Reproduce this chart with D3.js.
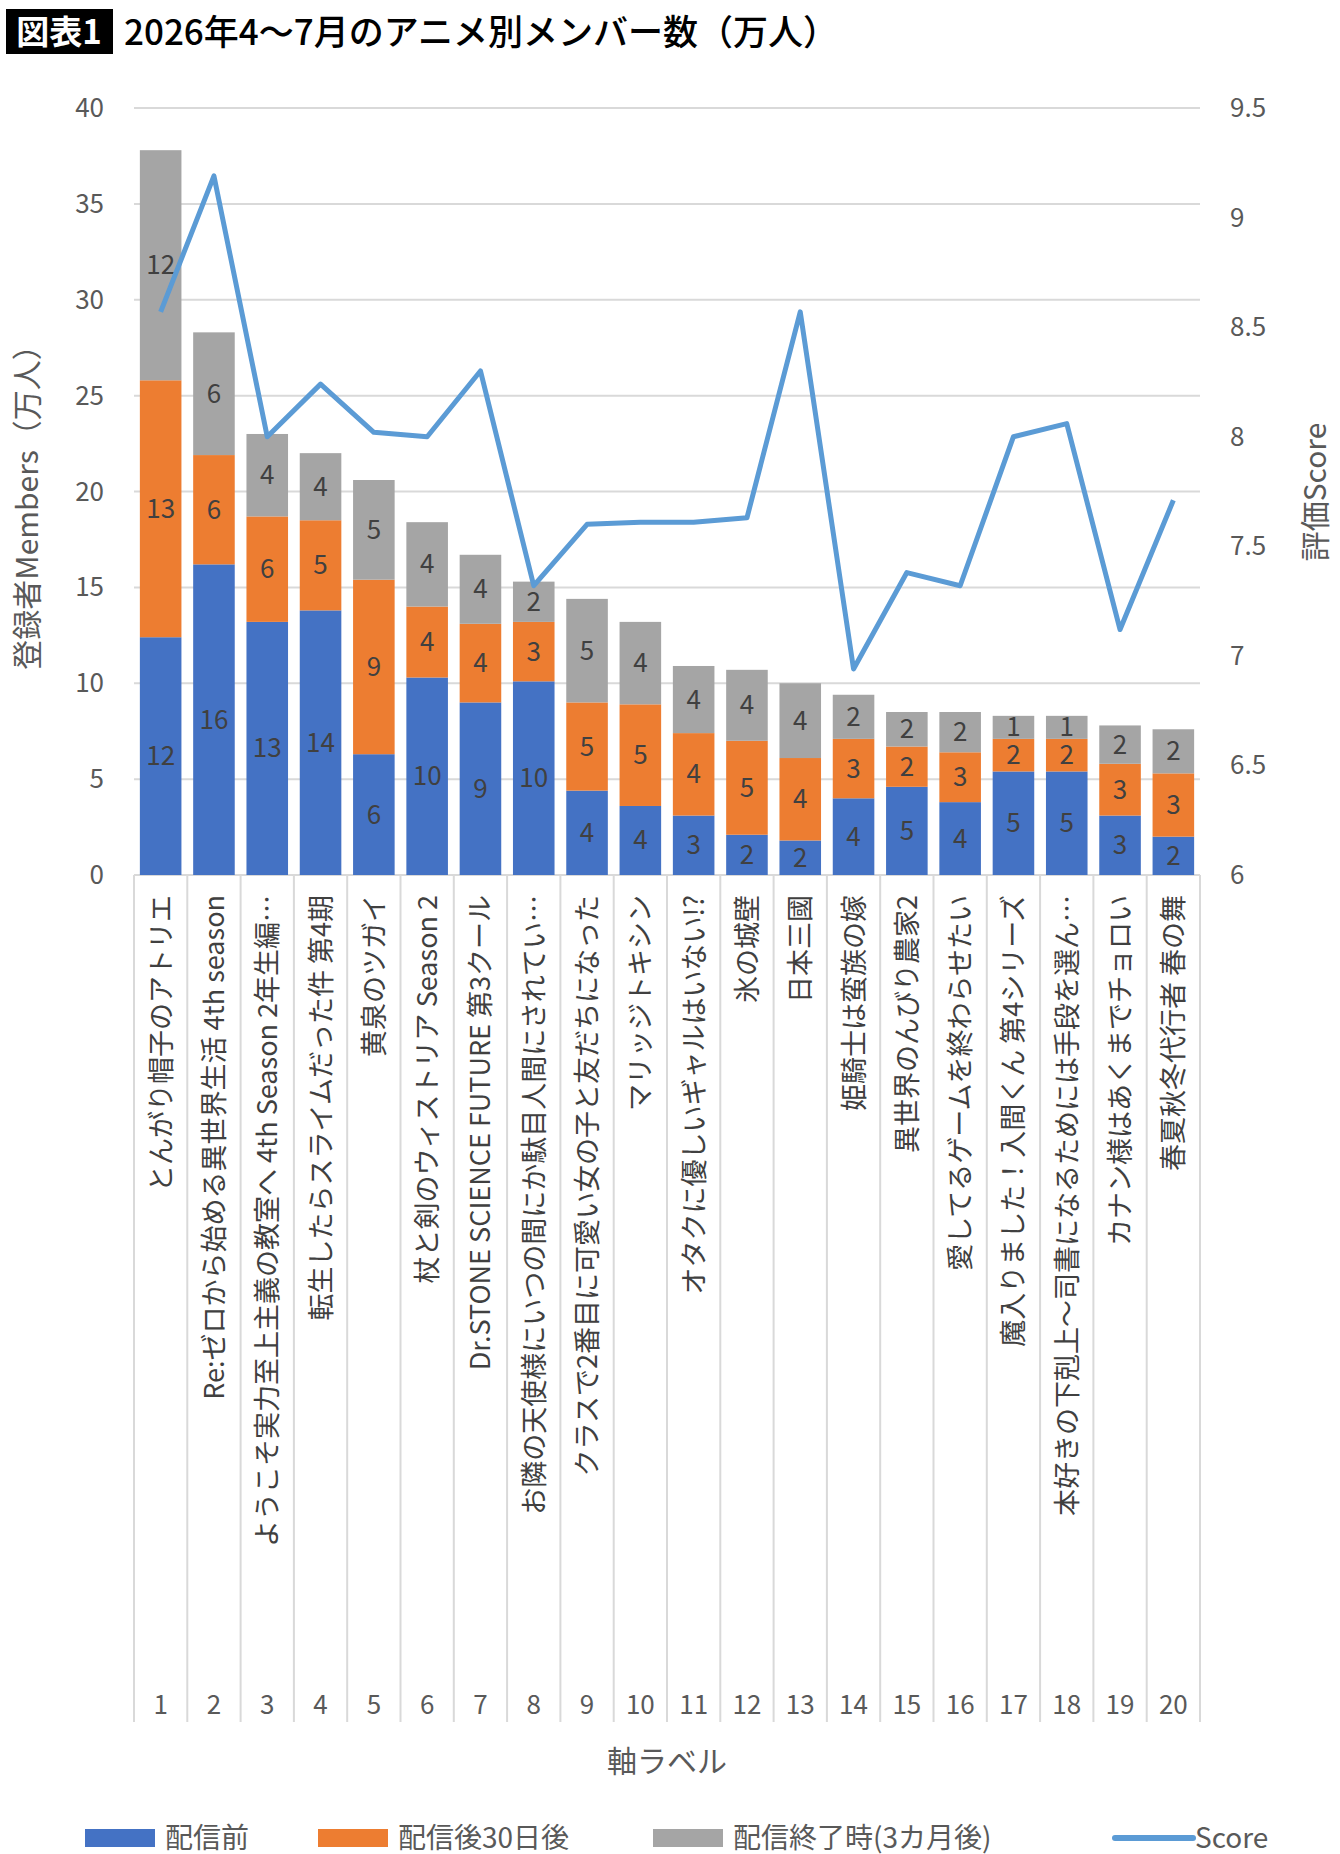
<!DOCTYPE html>
<html><head><meta charset="utf-8">
<script src="https://cdn.jsdelivr.net/npm/d3@7"></script>
<style>body{margin:0;background:#fff;font-family:"Noto Sans CJK JP","Noto Sans",sans-serif;}</style>
</head><body><div id="chart"></div>
<script>
// data
var categories = ["とんがり帽子のアトリエ","Re:ゼロから始める異世界生活 4th season","ようこそ実力至上主義の教室へ 4th Season 2年生編…","転生したらスライムだった件 第4期","黄泉のツガイ","杖と剣のウィストリア Season 2","Dr.STONE SCIENCE FUTURE 第3クール","お隣の天使様にいつの間にか駄目人間にされてい…","クラスで2番目に可愛い女の子と友だちになった","マリッジトキシン","オタクに優しいギャルはいない!?","氷の城壁","日本三國","姫騎士は蛮族の嫁","異世界のんびり農家2","愛してるゲームを終わらせたい","魔入りました！入間くん 第4シリーズ","本好きの下剋上～司書になるためには手段を選ん…","カナン様はあくまでチョロい","春夏秋冬代行者 春の舞"];
var before = [12.4,16.2,13.2,13.8,6.3,10.3,9.0,10.1,4.4,3.6,3.1,2.1,1.8,4.0,4.6,3.8,5.4,5.4,3.1,2.0];
var after30 = [13.4,5.7,5.5,4.7,9.1,3.7,4.1,3.1,4.6,5.3,4.3,4.9,4.3,3.1,2.1,2.6,1.7,1.7,2.7,3.3];
var atEnd = [12.0,6.4,4.3,3.5,5.2,4.4,3.6,2.1,5.4,4.3,3.5,3.7,3.9,2.3,1.8,2.1,1.2,1.2,2.0,2.3];
var score = [8.57,9.19,8.0,8.24,8.02,8.0,8.3,7.32,7.6,7.61,7.61,7.63,8.57,6.94,7.38,7.32,8.0,8.06,7.12,7.71];
var seriesNames = ["配信前","配信後30日後","配信終了時(3カ月後)","Score"];
var colors = ["#4472c4","#ed7d31","#a5a5a5","#5b9bd5"];
var leftTicks = [0,5,10,15,20,25,30,35,40];
var rightTicks = [6,6.5,7,7.5,8,8.5,9,9.5];

var W = 1340, H = 1854;
var svg = d3.select("#chart").append("svg").attr("width", W).attr("height", H);
var plotLeft = 134, plotRight = 1200, plotTop = 108, plotBottom = 875;

// title
svg.append("rect").attr("x", 6).attr("y", 9).attr("width", 107).attr("height", 45).attr("fill", "#000");
svg.append("text").attr("x", 59).attr("y", 44).attr("text-anchor", "middle").attr("fill", "#fff")
  .attr("font-size", 33).attr("font-weight", "bold").text("図表1");
svg.append("text").attr("x", 124).attr("y", 45).attr("fill", "#000")
  .attr("font-size", 35).attr("font-weight", "500").text("2026年4〜7月のアニメ別メンバー数（万人）");

var x = d3.scaleBand().domain(d3.range(20)).range([plotLeft, plotRight]).paddingInner(0.22).paddingOuter(0.11);
var step = (plotRight - plotLeft) / 20;
var y = d3.scaleLinear().domain([0, 40]).range([plotBottom, plotTop]);
var y2 = d3.scaleLinear().domain([6, 9.5]).range([plotBottom, plotTop]);

// gridlines
svg.append("g").selectAll("line").data(leftTicks).join("line")
  .attr("x1", plotLeft).attr("x2", plotRight).attr("y1", d => y(d)).attr("y2", d => y(d))
  .attr("stroke", "#d9d9d9").attr("stroke-width", 2);
svg.append("g").selectAll("text").data(leftTicks).join("text")
  .attr("x", 104).attr("y", d => y(d) + 9).attr("text-anchor", "end")
  .attr("font-size", 26).attr("fill", "#595959").text(d => d);
svg.append("g").selectAll("text").data(rightTicks).join("text")
  .attr("x", 1230).attr("y", d => y2(d) + 9)
  .attr("font-size", 26).attr("fill", "#595959").text(d => d);

// category separators below axis
svg.append("g").selectAll("line").data(d3.range(21)).join("line")
  .attr("x1", d => plotLeft + d * step).attr("x2", d => plotLeft + d * step)
  .attr("y1", plotBottom).attr("y2", 1722).attr("stroke", "#d9d9d9").attr("stroke-width", 2);

// stacked bars
var rows = categories.map((c, i) => ({i: i, b: before[i], a: after30[i], e: atEnd[i]}));
var stack = d3.stack().keys(["b","a","e"])(rows);
stack.forEach(function(layer, k) {
  var g = svg.append("g");
  g.selectAll("rect").data(layer).join("rect")
    .attr("x", (d, i) => x(i)).attr("width", x.bandwidth())
    .attr("y", d => y(d[1])).attr("height", d => y(d[0]) - y(d[1]))
    .attr("fill", colors[k]);
  g.selectAll("text").data(layer).join("text")
    .attr("x", (d, i) => x(i) + x.bandwidth() / 2).attr("y", d => (y(d[0]) + y(d[1])) / 2 + 9)
    .attr("text-anchor", "middle").attr("font-size", 26).attr("fill", "#404040")
    .text(d => Math.round(d[1] - d[0]));
});

// score line
var line = d3.line().x((d, i) => x(i) + x.bandwidth() / 2).y(d => y2(d));
svg.append("path").datum(score).attr("d", line).attr("fill", "none")
  .attr("stroke", colors[3]).attr("stroke-width", 5).attr("stroke-linejoin", "round");

// category labels
svg.append("g").selectAll("text").data(categories).join("text")
  .attr("transform", (d, i) => `translate(${x(i) + x.bandwidth() / 2 + 10},895) rotate(-90)`)
  .attr("text-anchor", "end").attr("font-size", 27).attr("fill", "#404040").text(d => d);
svg.append("g").selectAll("text").data(d3.range(20)).join("text")
  .attr("x", d => x(d) + x.bandwidth() / 2).attr("y", 1714).attr("text-anchor", "middle")
  .attr("font-size", 26).attr("fill", "#595959").text(d => d + 1);

// axis titles
svg.append("text").attr("x", (plotLeft + plotRight) / 2).attr("y", 1772).attr("text-anchor", "middle")
  .attr("font-size", 30).attr("fill", "#595959").text("軸ラベル");
svg.append("text").attr("transform", "translate(38,500) rotate(-90)").attr("text-anchor", "middle")
  .attr("font-size", 30).attr("fill", "#595959").text("登録者Members（万人）");
svg.append("text").attr("transform", "translate(1326,492) rotate(-90)").attr("text-anchor", "middle")
  .attr("font-size", 30).attr("fill", "#595959").text("評価Score");

// legend
var legX = [85, 318, 653, 1115];
seriesNames.forEach(function(n, k) {
  if (k < 3) {
    svg.append("rect").attr("x", legX[k]).attr("y", 1829).attr("width", 70).attr("height", 18).attr("fill", colors[k]);
  } else {
    svg.append("line").attr("x1", legX[k]).attr("x2", legX[k] + 78).attr("y1", 1838).attr("y2", 1838)
      .attr("stroke", colors[k]).attr("stroke-width", 6).attr("stroke-linecap", "round");
  }
  svg.append("text").attr("x", legX[k] + 80).attr("y", 1848)
    .attr("font-size", 28).attr("fill", "#595959").text(n);
});
</script></body></html>
